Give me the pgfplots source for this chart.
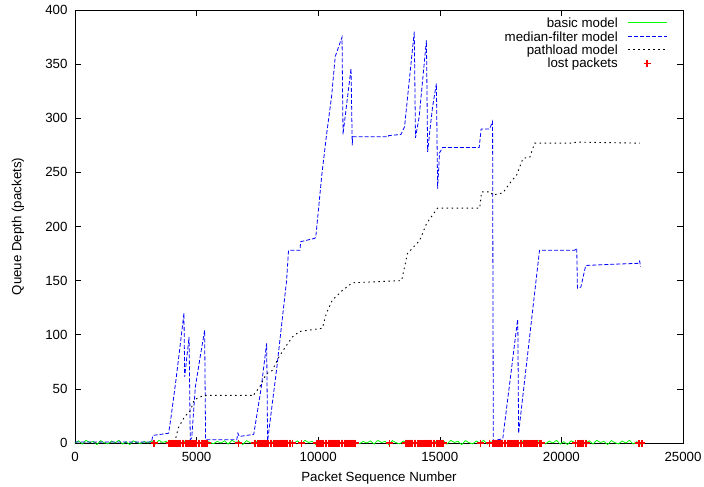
\documentclass[border=0pt]{standalone}
\usepackage{fontspec}
\setmainfont{Liberation Sans}
\usepackage{pgfplots}
\pgfplotsset{compat=1.18}
\definecolor{gpgreen}{rgb}{0,1,0}
\definecolor{gpblue}{rgb}{0,0,1}
\definecolor{gpred}{rgb}{1,0,0}
\begin{document}
\begin{tikzpicture}
\begin{axis}[
  name=ax,
  scale only axis,
  width=608pt, height=433pt,
  xmin=0, xmax=25000, ymin=0, ymax=400,
  xtick={0,5000,...,25000},
  ytick={0,50,...,400},
  scaled x ticks=false,
  xticklabel style={/pgf/number format/1000 sep={}, yshift=-6pt},
  yticklabel style={xshift=-4pt},
  /pgf/number format/assume math mode=true,
  font=\fontsize{13.3}{16}\selectfont,
  tick align=inside,
  major tick length=6pt,
  tick style={black, line width=0.6pt},
  axis line style={black, line width=0.9pt},
  xlabel={Packet Sequence Number},
  ylabel={Queue Depth (packets)},
  xlabel style={at={(axis description cs:0.5,-0.082)}, anchor=center},
  ylabel style={at={(axis description cs:-0.0938,0.5)}, anchor=center},
  clip=false,
]
\addplot[gpgreen, line width=0.8pt] coordinates {
(0,0)(150,2)(300,-1)(450,2.5)(600,0.5)(750,1.5)(900,-1.5)(1050,2.2)(1200,0.3)(1350,-0.8)(1500,1.8)(1650,0)(1800,2.5)(1950,-1)(2100,1.2)(2250,-1.5)(2400,2)(2550,0.5)(2700,-0.6)(2850,1.5)
(3000,0)(3150,2)(3300,-1)(3450,2.5)(3600,0.5)(3750,1.5)(3900,-1.5)(4050,2.2)(4200,0.3)(4350,-0.8)(4500,1.8)(4650,0)(4800,2.5)(4950,-1)(5100,1.2)(5250,-1.5)(5400,2)(5550,0.5)(5700,-0.6)(5850,1.5)
(6000,0)(6150,2)(6300,-1)(6450,2.5)(6600,0.5)(6750,1.5)(6900,-1.5)(7050,2.2)(7200,0.3)(7350,-0.8)(7500,1.8)(7650,0)(7800,2.5)(7950,-1)(8100,1.2)(8250,-1.5)(8400,2)(8550,0.5)(8700,-0.6)(8850,1.5)
(9000,0)(9150,2)(9300,-1)(9450,2.5)(9600,0.5)(9750,1.5)(9900,-1.5)(10050,2.2)(10200,0.3)(10350,-0.8)(10500,1.8)(10650,0)(10800,2.5)(10950,-1)(11100,1.2)(11250,-1.5)(11400,2)(11550,0.5)(11700,-0.6)(11850,1.5)
(12000,0)(12150,2)(12300,-1)(12450,2.5)(12600,0.5)(12750,1.5)(12900,-1.5)(13050,2.2)(13200,0.3)(13350,-0.8)(13500,1.8)(13650,0)(13800,2.5)(13950,-1)(14100,1.2)(14250,-1.5)(14400,2)(14550,0.5)(14700,-0.6)(14850,1.5)
(15000,0)(15150,2)(15300,-1)(15450,2.5)(15600,0.5)(15750,1.5)(15900,-1.5)(16050,2.2)(16200,0.3)(16350,-0.8)(16500,1.8)(16650,0)(16800,2.5)(16950,-1)(17100,1.2)(17250,-1.5)(17400,2)(17550,0.5)(17700,-0.6)(17850,1.5)
(18000,0)(18150,2)(18300,-1)(18450,2.5)(18600,0.5)(18750,1.5)(18900,-1.5)(19050,2.2)(19200,0.3)(19350,-0.8)(19500,1.8)(19650,0)(19800,2.5)(19950,-1)(20100,1.2)(20250,-1.5)(20400,2)(20550,0.5)(20700,-0.6)(20850,1.5)
(21000,0)(21150,2)(21300,-1)(21450,2.5)(21600,0.5)(21750,1.5)(21900,-1.5)(22050,2.2)(22200,0.3)(22350,-0.8)(22500,1.8)(22650,0)(22800,2.5)(22950,-1)(23100,1.2)(23250,-1)(23310,0)
};
\addplot[gpblue, line width=0.8pt, dash pattern=on 4pt off 2pt] coordinates {
(0,1)(3150,1)(3200,7)(3850,9)(3950,24)(4150,58)(4350,95)(4480,120)(4510,61)(4690,98)(4740,3)(4800,5)(4950,52)(5150,80)(5330,104)(5370,3)
(6650,3)(6700,9)(6750,6)(7050,7)(7350,8)(7650,50)(7880,92)(7920,2)(8300,70)(8700,150)(8780,178)(9250,178)(9280,186)(9850,189)(9900,190)
(10150,248)(10350,286)(10550,320)(10700,357)(10980,375)(11020,285)(11100,300)(11350,346)(11400,275)(11420,283)(12880,283)(12900,284)(13400,285)
(13550,292)(13950,380)(14000,282)(14150,301)(14450,372)(14500,269)(14580,286)(14700,310)(14860,332)(14910,235)(14990,268)(15110,273)
(16620,273)(16700,290)(17050,290)(17170,297)(17200,2)(17590,4)(18200,114)(18210,104)(18240,9)(19100,178)(20550,178)(20630,180)(20660,143)
(20800,144)(21000,164)(22000,165)(23180,166)(23220,168)(23250,163)
};
\addplot[black, line width=0.9pt, dash pattern=on 1.5pt off 3.5pt] coordinates {
(0,0)(4100,0)(4150,5)(4250,14)(4500,24)(4750,30)(4900,40)(5300,44)(7250,44)(7300,43)(7600,52)(7870,64)(8110,67)(8400,80)(8690,90)(8940,98)
(9230,103)(10170,106)(10340,120)(10580,132)(11000,141)(11400,148)(13430,150)(13670,175)(14170,187)(14460,203)(14910,217)(16640,217)
(16720,232)(17100,232)(17170,229)(17590,231)(17880,240)(18170,248)(18420,263)(18700,264)(18900,277)(20500,277)(20600,278)(23230,277)
};
\addplot[only marks, mark=+, mark size=3.5pt, gpred, mark options={gpred, line width=1.3pt}] coordinates {
(3250,0)(6710,0)(9310,0)(12930,0)(16680,0)(17050,0)(20590,0)(23190,0)(23310,0)
(3870,0)(3930,0)(3990,0)(4050,0)(4110,0)(4170,0)(4230,0)(4290,0)(4350,0)(4410,0)(4470,0)(4530,0)(4590,0)(4650,0)(4710,0)(4770,0)(4830,0)(4890,0)(4950,0)(5010,0)(5070,0)(5130,0)(5190,0)(5250,0)(5310,0)(5370,0)(5430,0)
(7370,0)(7430,0)(7490,0)(7550,0)(7610,0)(7670,0)(7730,0)(7790,0)(7850,0)(7910,0)(7970,0)(8030,0)(8090,0)(8150,0)(8210,0)(8270,0)(8330,0)(8390,0)(8450,0)(8510,0)(8570,0)(8630,0)(8690,0)(8750,0)(8810,0)(8870,0)(8930,0)
(9930,0)(9990,0)(10050,0)(10110,0)(10170,0)(10230,0)(10290,0)(10350,0)(10410,0)(10470,0)(10530,0)(10590,0)(10650,0)(10710,0)(10770,0)(10830,0)(10890,0)(10950,0)(11010,0)(11070,0)(11130,0)(11190,0)(11250,0)(11310,0)(11370,0)(11430,0)(11490,0)(11530,0)
(13590,0)(13650,0)(13710,0)(13770,0)(13830,0)(13890,0)(13950,0)(14010,0)(14070,0)(14130,0)(14190,0)(14250,0)(14310,0)(14370,0)(14430,0)(14490,0)(14550,0)(14610,0)(14670,0)(14730,0)(14790,0)(14850,0)(14910,0)(14970,0)(15030,0)(15090,0)(15150,0)
(17170,0)(17230,0)(17290,0)(17350,0)(17410,0)(17470,0)(17530,0)(17590,0)(17650,0)(17710,0)(17770,0)(17830,0)(17890,0)(17950,0)(18010,0)(18070,0)(18130,0)(18190,0)(18250,0)(18310,0)(18370,0)(18430,0)(18490,0)(18550,0)(18610,0)(18670,0)(18730,0)(18790,0)(18850,0)(18910,0)(18970,0)(19030,0)(19090,0)(19150,0)(19190,0)
(20680,0)(20740,0)(20800,0)(20860,0)(20920,0)(20980,0)(21040,0)
};
\end{axis}
% legend (keys and labels)
\begin{scope}[shift={(ax.north east)}, every node/.style={font=\fontsize{13.3}{16}\selectfont, inner sep=0pt}]
  \node[anchor=base east] at (-65pt,-17.7pt) {basic model};
  \node[anchor=base east] at (-65pt,-31.1pt) {median-filter model};
  \node[anchor=base east] at (-65pt,-44.5pt) {pathload model};
  \node[anchor=base east] at (-65pt,-57.9pt) {lost packets};
  \draw[gpgreen, line width=1pt] (-55pt,-13pt) -- (-16pt,-13pt);
  \draw[gpblue, line width=0.9pt, dash pattern=on 4pt off 2pt] (-55pt,-26.4pt) -- (-16pt,-26.4pt);
  \draw[black, line width=0.9pt, dash pattern=on 1.5pt off 3.5pt] (-55pt,-39.8pt) -- (-16pt,-39.8pt);
  \draw[gpred, line width=1.3pt] (-36pt,-56.7pt) -- (-36pt,-49.7pt) (-39.5pt,-53.2pt) -- (-32.5pt,-53.2pt);
\end{scope}
\pgfresetboundingbox
\path ([shift={(-75pt,-44pt)}]ax.south west) rectangle ([shift={(21pt,10pt)}]ax.north east);
\end{tikzpicture}
\end{document}
